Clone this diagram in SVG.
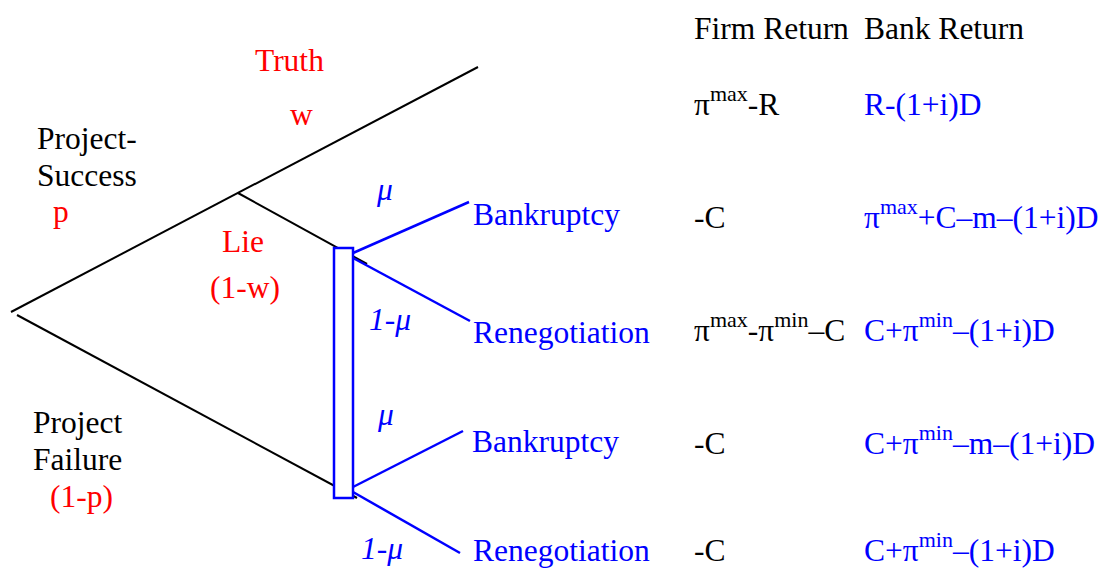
<svg xmlns="http://www.w3.org/2000/svg" width="1102" height="569" viewBox="0 0 1102 569" font-family="'Liberation Serif', 'Times New Roman', Times, serif">
<style>
text{font-family:"Liberation Serif","Times New Roman",Times,serif;font-size:31.5px}
.k{fill:#000}
.r{fill:#FF0000}
.b{fill:#0000FF}
.it{font-style:italic}
.sup{font-size:22px}
.bl{stroke:#000;stroke-width:2;fill:none}
.bu{stroke:#0000FF;stroke-width:2.5;fill:none}
</style>
<rect width="1102" height="569" fill="#fff"/>
<g id="connectors">
<line class="bl" x1="11" y1="312" x2="478" y2="67"/>
<line class="bl" x1="238" y1="193" x2="367" y2="264"/>
<line class="bl" x1="17" y1="315" x2="357" y2="498"/>
</g>
<g id="info-set">
<rect x="334" y="248" width="19" height="250" fill="#fff" stroke="#0000FF" stroke-width="2.5"/>
</g>
<g id="blue-branches">
<line class="bu" x1="353" y1="253" x2="469" y2="202"/>
<line class="bu" x1="353" y1="258" x2="470" y2="321"/>
<line class="bu" x1="353" y1="487" x2="463" y2="431"/>
<line class="bu" x1="353" y1="492" x2="460" y2="553"/>
</g>
<g id="labels-left">
<text class="k" x="37" y="149">Project-</text>
<text class="k" x="37" y="186">Success</text>
<text class="r" x="53" y="222">p</text>
<text class="r" x="255" y="71">Truth</text>
<text class="r" x="290" y="125">w</text>
<text class="r" x="222" y="252">Lie</text>
<text class="r" x="210" y="298">(1-w)</text>
<text class="k" x="33" y="433">Project</text>
<text class="k" x="33" y="470">Failure</text>
<text class="r" x="50" y="507">(1-p)</text>
<text class="b it" x="377" y="200">μ</text>
<text class="b it" x="369" y="330">1-μ</text>
<text class="b it" x="378" y="425">μ</text>
<text class="b it" x="361" y="559">1-μ</text>
</g>
<g id="node-outcomes">
<text class="b" x="473" y="225">Bankruptcy</text>
<text class="b" x="473" y="343">Renegotiation</text>
<text class="b" x="472" y="452">Bankruptcy</text>
<text class="b" x="473" y="561">Renegotiation</text>
</g>
<g id="payoffs">
<text class="k" x="694" y="39">Firm Return</text>
<text class="k" x="864" y="39">Bank Return</text>
<text class="k" x="694" y="115">π<tspan class="sup" dy="-14">max</tspan><tspan dy="14">-R</tspan></text>
<text class="b" x="864" y="115">R-(1+i)D</text>
<text class="k" x="694" y="228">-C</text>
<text class="b" x="864" y="228">π<tspan class="sup" dy="-14">max</tspan><tspan dy="14">+C–m–(1+i)D</tspan></text>
<text class="k" x="694" y="341">π<tspan class="sup" dy="-14">max</tspan><tspan dy="14">-π</tspan><tspan class="sup" dy="-14">min</tspan><tspan dy="14">–C</tspan></text>
<text class="b" x="864" y="341">C+π<tspan class="sup" dy="-14">min</tspan><tspan dy="14">–(1+i)D</tspan></text>
<text class="k" x="694" y="454">-C</text>
<text class="b" x="864" y="454">C+π<tspan class="sup" dy="-14">min</tspan><tspan dy="14">–m–(1+i)D</tspan></text>
<text class="k" x="694" y="561">-C</text>
<text class="b" x="864" y="561">C+π<tspan class="sup" dy="-14">min</tspan><tspan dy="14">–(1+i)D</tspan></text>
</g>
</svg>
